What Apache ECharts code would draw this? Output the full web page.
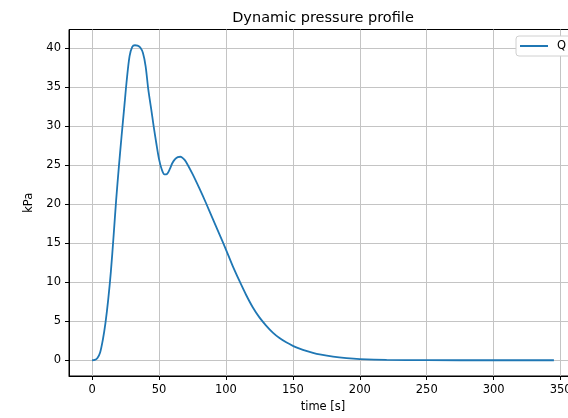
<!DOCTYPE html>
<html>
<head>
<meta charset="utf-8">
<script src="https://cdn.jsdelivr.net/npm/echarts@6/dist/echarts.min.js"></script>
<style>
html,body{margin:0;padding:0;overflow:hidden;background:#fff;}
#chart{width:646px;height:418px;}
</style>
</head>
<body>
<div id="chart"></div>
<script>
const timeS = [0, 2, 4, 6, 8, 10, 12, 14, 16, 18, 20, 22, 24, 26, 28, 30, 32, 34, 36, 38, 40, 42, 44, 46, 48, 50, 52, 54, 56, 58, 60, 62, 64, 66, 68, 70, 75, 80, 85, 90, 95, 100, 105, 110, 115, 120, 125, 130, 135, 140, 145, 150, 155, 160, 165, 170, 180, 190, 200, 220, 250, 300, 345];
const qKpa = [0, 0.05, 0.3, 1.0, 2.6, 4.8, 7.7, 11.3, 15.8, 20.6, 24.8, 28.7, 32.4, 36.1, 39.0, 40.2, 40.4, 40.35, 40.1, 39.4, 37.7, 34.7, 32.4, 30.0, 27.8, 25.8, 24.5, 23.85, 23.9, 24.5, 25.3, 25.8, 26.05, 26.1, 25.9, 25.5, 23.9, 22.1, 20.2, 18.2, 16.2, 14.2, 12.1, 10.2, 8.4, 6.8, 5.5, 4.45, 3.55, 2.85, 2.3, 1.85, 1.5, 1.2, 0.95, 0.75, 0.46, 0.27, 0.15, 0.04, 0.01, 0, 0];
const xTicks = [0, 50, 100, 150, 200, 250, 300, 350];
const yTicks = [0, 5, 10, 15, 20, 25, 30, 35, 40];
const titleText = 'Dynamic pressure profile';
const xName = 'time [s]';
const yName = 'kPa';
const seriesName = 'Q';

const font = 'DejaVu Sans';
const chart = echarts.init(document.getElementById('chart'), null, {renderer: 'canvas'});
const axisCommon = {
  axisLine: {show: true, onZero: false, lineStyle: {color: '#000', width: 1}},
  axisTick: {show: true, inside: false, length: 4, lineStyle: {color: '#000', width: 1}},
  splitLine: {show: true, lineStyle: {color: '#c4c4c4', width: 1}},
  nameTextStyle: {color: '#000', fontFamily: font, fontSize: 11.5}
};
chart.setOption({
  animation: false,
  backgroundColor: '#fff',
  title: {
    text: titleText, left: 'center', top: 6,
    textStyle: {color: '#000', fontFamily: font, fontSize: 14.5, fontWeight: 'normal'}
  },
  legend: {
    show: true, left: 516, top: 36, orient: 'vertical',
    icon: 'rect', itemWidth: 28, itemHeight: 2,
    padding: [4, 6, 4, 4],
    backgroundColor: '#fff', borderColor: '#d0d0d0', borderWidth: 1, borderRadius: 3,
    textStyle: {color: '#000', fontFamily: font, fontSize: 11.5, padding: [0, 0, 0, 4]},
    data: [seriesName]
  },
  grid: {left: 69, right: 69, top: 29.5, bottom: 40, show: true, borderColor: '#000', borderWidth: 1, backgroundColor: 'transparent'},
  xAxis: Object.assign({}, axisCommon, {
    type: 'value', min: -17.25, max: 362.25,
    name: xName, nameLocation: 'middle', nameGap: 25,
    axisTick: Object.assign({}, axisCommon.axisTick, {customValues: xTicks}),
    axisLabel: {customValues: xTicks, color: '#000', fontFamily: font, fontSize: 11.5, margin: 8}
  }),
  yAxis: Object.assign({}, axisCommon, {
    type: 'value', min: -2.02, max: 42.42,
    name: yName, nameLocation: 'middle', nameGap: 31, nameRotate: 90,
    axisTick: Object.assign({}, axisCommon.axisTick, {customValues: yTicks}),
    axisLabel: {customValues: yTicks, color: '#000', fontFamily: font, fontSize: 11.5, margin: 8}
  }),
  series: [{
    name: seriesName, type: 'line', showSymbol: false, smooth: 0.3,
    color: '#1f77b4',
    lineStyle: {color: '#1f77b4', width: 1.8},
    data: timeS.map((t, i) => [t, qKpa[i]])
  }]
});
</script>
</body>
</html>
